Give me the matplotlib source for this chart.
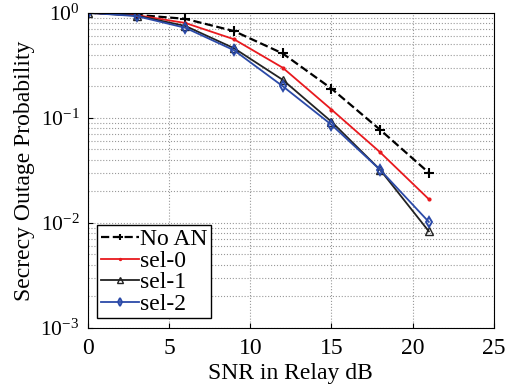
import matplotlib
matplotlib.use("Agg")
import matplotlib.pyplot as plt
from matplotlib.ticker import LogLocator, NullFormatter

plt.rcParams['font.family'] = ['Liberation Serif', 'DejaVu Serif']
plt.rcParams['mathtext.fontset'] = 'stix'

snr = [0, 3, 6, 9, 12, 15, 18, 21]
no_an = [1.0, 0.956, 0.876, 0.67, 0.41, 0.19, 0.077, 0.030]
sel0 = [1.0, 0.95, 0.80, 0.56, 0.30, 0.12, 0.047, 0.0168]
sel1 = [1.0, 0.94, 0.75, 0.46, 0.23, 0.092, 0.032, 0.0083]
sel2 = [1.0, 0.93, 0.72, 0.44, 0.20, 0.086, 0.032, 0.0102]

fig = plt.figure(figsize=(5.08, 3.88), dpi=100)
ax = fig.add_axes([0.173, 0.155, 0.799, 0.812])

ax.semilogy(snr, no_an, 'k--', marker='+', ms=7, mew=1.5, lw=1.6, label='No AN')
ax.semilogy(snr, sel0, color='#e8191e', marker='.', ms=4, lw=1.3, label='sel-0')
ax.semilogy(snr, sel1, color='#222222', marker='^', ms=5.5, mfc='none', mew=1.0, lw=1.3, label='sel-1')
ax.semilogy(snr, sel2, color='#2b4aa8', marker='d', ms=5.5, mfc='none', mew=1.4, lw=1.3, label='sel-2')

ax.set_xlim(0, 25)
ax.set_ylim(1e-3, 1)
ax.set_xticks([0, 5, 10, 15, 20, 25])
ax.yaxis.set_major_locator(LogLocator(base=10, numticks=10))
ax.yaxis.set_minor_locator(LogLocator(base=10, subs=range(2, 10), numticks=20))
ax.yaxis.set_minor_formatter(NullFormatter())
ax.tick_params(direction='in', which='both', top=False, right=False)
ax.tick_params(axis='x', labelsize=17, pad=7)
ax.tick_params(axis='y', labelsize=15.5, pad=6)
ax.tick_params(which='minor', length=0)
ax.grid(True, which='major', ls=':', color='#999999', lw=0.8)
ax.grid(True, which='minor', axis='y', ls=':', color='#999999', lw=0.8)

ax.set_xlabel('SNR in Relay dB', fontsize=17, labelpad=3)
ax.set_ylabel('Secrecy Outage Probability', fontsize=17, labelpad=4)

leg = ax.legend(loc='lower left', fontsize=17, fancybox=False, framealpha=1,
                edgecolor='black', handlelength=1.6, handletextpad=0.05,
                borderpad=0.15, labelspacing=0.0, borderaxespad=0.4,
                markerscale=0.7)
leg.get_frame().set_linewidth(1.0)

fig.savefig('out.png', dpi=100)
